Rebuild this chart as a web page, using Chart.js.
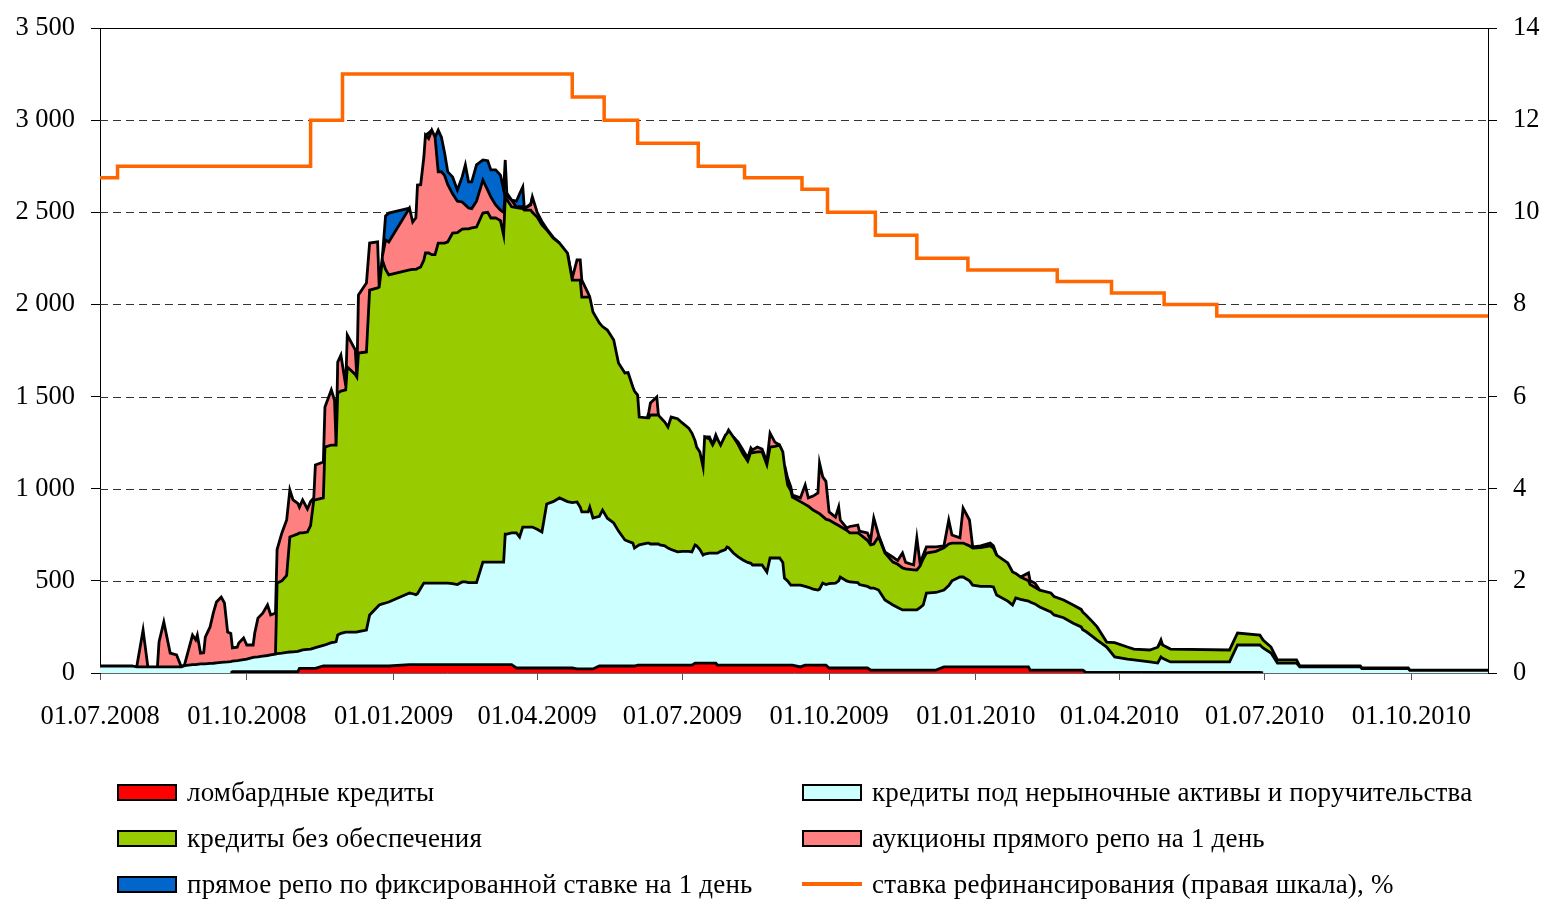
<!DOCTYPE html>
<html>
<head>
<meta charset="utf-8">
<script src="https://cdn.jsdelivr.net/npm/chart.js@4.4.1/dist/chart.umd.min.js"></script>
<style>
html,body{margin:0;padding:0;background:#fff;}
#wrap{position:relative;width:1545px;height:899px;overflow:hidden;}
#chart{position:absolute;left:0;top:0;}
#legend{position:absolute;left:0;top:0;width:1545px;height:899px;pointer-events:none;
  font-family:"Liberation Serif","Times New Roman",serif;font-size:27px;letter-spacing:0.2px;color:#000;}
.item{position:absolute;display:flex;align-items:center;white-space:nowrap;height:30px;}
.sw{width:56px;height:13px;border:2px solid #000;margin-right:10px;}
.ln{width:60px;height:4px;margin-right:10px;}
</style>
</head>
<body>
<div id="wrap">
<canvas id="chart" width="1545" height="899"></canvas>
<div id="legend"></div>
</div>
<script>
// days since 01.07.2008
const days = [0,20,23,27,30,36,37,40,44,48,
51,53,58,60,61,63,65,66,69,71,
73,76,78,80,82,83,86,87,90,92,
96,97,99,102,105,107,110,111,114,117,
119,121,124,125,127,130,132,134,135,140,
141,145,147,148,149,151,154,155,160,161,
162,167,169,174,175,177,179,181,194,196,
198,199,201,203,204,206,208,210,212,214,
216,218,221,224,227,229,231,233,236,240,
243,245,248,251,253,254,255,258,261,263,
265,266,270,271,274,277,280,284,288,293,
296,299,301,302,306,307,309,313,315,318,
322,325,329,331,334,335,337,338,343,344,
345,349,350,351,354,356,358,362,365,369,
371,373,374,376,378,379,382,384,386,387,
389,392,393,394,397,400,403,406,408,409,
412,415,418,420,423,426,428,429,431,433,
434,439,442,444,447,450,451,453,455,457,
461,463,464,468,470,475,476,481,483,485,
488,492,497,500,503,505,510,512,514,516,
518,524,529,532,534,539,541,545,547,552,
558,560,562,569,572,574,577,582,583,586,
589,596,598,604,610,615,616,618,621,625,
631,636,644,648,658,663,665,666,671,708,
713,727,729,734,738,750,752,790,791,820,
821,870];

// ломбардные кредиты
const lombard = [0,0,0,0,0,0,0,0,0,0,
0,0,0,0,0,0,0,0,0,0,
0,0,0,0,0,8,8,8,8,8,
8,8,8,8,8,8,8,8,8,8,
8,8,8,25,25,25,25,25,25,38,
38,38,38,38,38,38,38,38,38,38,
38,38,38,38,38,38,38,38,45,45,
45,45,45,45,45,45,45,45,45,45,
45,45,45,45,45,45,45,45,45,45,
45,45,45,45,45,45,45,45,27,27,
27,27,27,27,27,27,27,27,27,27,
27,22,22,22,22,22,22,38,38,38,
38,38,38,38,38,38,43,43,43,43,
43,43,43,43,43,43,43,43,43,43,
43,54,54,54,54,54,54,54,54,43,
43,43,43,43,43,43,43,43,43,43,
43,43,43,43,43,43,43,43,43,43,
43,33,43,43,43,43,43,43,43,27,
27,27,27,27,27,27,27,27,16,16,
16,16,16,16,16,16,16,16,16,16,
16,16,33,33,33,33,33,33,33,33,
33,33,33,33,33,33,33,33,16,16,
16,16,16,16,16,16,16,3,3,3,
3,3,3,3,3,3,3,3,3,3,
3,3,0,0,0,0,0,0,0,0,
0,0];

// кредиты под нерыночные активы и поручительства
const nonMarket = [38,38,33,33,33,33,33,33,33,33,
33,40,45,45,47,50,50,50,52,53,
55,58,59,60,62,57,59,60,64,67,
77,78,80,84,87,90,95,97,100,104,
106,107,109,95,100,103,105,110,113,112,
114,127,130,132,168,177,184,184,184,184,
187,195,277,322,331,337,342,347,389,385,
380,385,415,443,443,443,443,443,443,443,
443,443,440,435,449,449,445,445,445,557,
557,557,557,557,557,709,709,715,733,711,
765,765,765,765,753,738,890,903,923,903,
898,906,878,852,852,878,819,812,846,802,
776,732,684,677,667,640,647,652,662,662,
657,657,657,652,647,635,627,614,617,617,
614,641,636,616,586,591,596,596,596,607,
617,627,641,637,608,587,570,557,552,543,
543,543,505,581,581,581,557,472,457,434,
434,444,427,422,412,407,412,445,437,458,
461,473,494,473,467,463,453,443,445,445,
434,380,353,339,326,326,326,326,339,353,
418,421,417,442,467,488,488,467,444,437,
437,434,390,357,336,374,367,357,369,359,
342,315,299,284,254,234,219,222,202,176,
138,84,72,68,57,51,84,77,57,57,
149,149,136,108,54,54,33,33,24,24,
14,14];

// кредиты без обеспечения
const unsecured = [0,0,0,0,0,0,0,0,0,0,
0,0,0,0,0,0,0,0,0,0,
0,0,0,0,0,0,0,0,0,0,
0,0,0,0,0,0,0,383,392,418,
624,630,638,640,635,637,670,804,802,800,
1074,1072,1069,1067,1313,1315,1314,1438,1398,1384,
1511,1509,1763,1730,1725,1865,1810,1775,1753,1760,
1765,1765,1743,1753,1791,1791,1782,1782,1845,1845,
1845,1852,1902,1910,1915,1916,1920,1925,1930,1894,
1898,1867,1868,1853,1775,1823,1816,1770,1765,1785,
1728,1720,1720,1708,1694,1666,1487,1430,1383,1349,
1207,1204,1232,1166,1166,1140,1118,1050,996,1021,
993,912,906,915,847,852,818,694,679,679,
700,700,700,694,672,657,719,723,697,669,
645,565,536,529,478,636,620,587,620,620,
577,621,616,638,630,610,577,550,605,609,
614,614,582,602,606,613,600,615,520,513,
478,453,445,440,429,420,410,362,355,345,
322,300,274,275,266,270,275,250,234,239,
290,255,233,235,228,223,218,217,225,251,
217,223,230,225,205,184,184,190,201,210,
220,211,217,207,179,133,121,110,95,90,
92,103,100,96,99,95,96,90,83,71,
27,78,66,59,65,86,81,72,70,65,
65,54,43,33,17,17,5,5,3,3,
2,2];

// аукционы прямого репо на 1 день
const repoAuction = [0,0,0,200,0,0,135,244,75,65,
0,5,161,135,159,58,60,145,198,272,
330,354,321,162,153,71,73,95,118,77,
67,131,210,233,274,217,222,182,260,300,
255,194,165,140,179,125,130,11,189,195,
217,299,243,0,168,195,24,174,133,0,
315,374,255,249,0,20,160,179,336,257,
280,453,447,559,640,621,676,638,387,387,
367,310,213,170,147,130,113,105,140,179,
120,114,70,57,123,23,20,36,4,7,
10,8,28,83,26,19,6,5,0,0,
11,109,109,92,20,0,0,0,0,0,
0,0,0,0,0,0,0,0,0,32,
65,98,0,0,0,0,0,0,0,0,
0,0,0,0,0,0,11,3,21,0,
0,0,0,0,0,13,20,17,21,15,
26,15,15,76,23,0,0,0,38,20,
11,20,105,45,76,107,274,214,205,44,
36,101,35,12,35,43,15,40,25,141,
9,6,27,20,81,35,26,174,17,20,
33,24,10,130,44,28,190,140,6,10,
15,12,0,0,0,0,0,43,20,23,
0,0,0,0,0,0,0,0,0,0,
0,0,0,0,0,0,11,0,0,0,
0,0,0,0,0,0,0,0,0,0,
0,0];

// прямое репо по фиксированной ставке на 1 день
const repoFixed = [0,0,0,0,0,0,0,0,0,0,
0,0,0,0,0,0,0,0,0,0,
0,0,0,0,0,0,0,0,0,0,
0,0,0,0,0,0,0,0,0,0,
0,0,0,0,0,0,0,0,0,0,
0,0,0,0,0,0,0,0,0,0,
0,0,0,0,0,0,130,157,0,0,
0,0,0,0,0,30,0,0,226,188,
122,69,92,61,136,217,142,145,197,109,
160,147,190,190,121,184,14,0,31,70,
107,0,5,0,0,0,0,0,0,0,
0,0,0,0,0,0,0,0,0,0,
0,0,0,0,0,0,0,0,0,0,
0,0,0,0,0,0,0,0,0,0,
0,0,0,0,0,0,0,0,0,0,
0,0,0,0,0,0,0,0,0,0,
0,0,0,0,0,0,0,0,0,0,
0,0,0,0,0,0,0,0,0,0,
0,0,0,0,0,0,0,0,0,0,
0,0,0,0,0,0,0,0,0,0,
0,0,0,0,0,0,0,0,0,0,
0,0,0,0,0,0,0,0,0,0,
0,0,0,0,0,0,0,0,0,0,
0,0,0,0,0,0,0,0,0,0,
0,0,0,0,0,0,0,0,0,0,
0,0];

// ставка рефинансирования, % (days since 01.07.2008 when each rate starts)
const rateDays   = [0,11,132,152,296,316,337,375,404,440,456,486,512,544,600,634,667,700,870];
const rateValues = [10.75,11,12,13,12.5,12,11.5,11,10.75,10.5,10,9.5,9,8.75,8.5,8.25,8,7.75,7.75];

// x-axis tick labels
const xTickDays   = [0,92,184,274,365,457,549,639,730,822];
const xTickLabels = ['01.07.2008','01.10.2008','01.01.2009','01.04.2009','01.07.2009','01.10.2009','01.01.2010','01.04.2010','01.07.2010','01.10.2010'];

const seriesLabels = ['ломбардные кредиты','кредиты под нерыночные активы и поручительства','кредиты без обеспечения','аукционы прямого репо на 1 день','прямое репо по фиксированной ставке на 1 день','ставка рефинансирования (правая шкала), %'];
const seriesColors = ['#FF0000','#CCFFFF','#99CC00','#FF8080','#0066CC','#FF6600'];

const lens = [lombard,nonMarket,unsecured,repoAuction,repoFixed].map(a=>a.length);
if (lens.some(l=>l!==days.length)) console.error('length mismatch', days.length, lens);

const FONT = '"Liberation Serif","Times New Roman",serif';
const FS = 26.5;

const toPts = vals => vals.map((v,i)=>({x:days[i], y:v}));
function area(idx, vals, fill){
  return {
    type:'line', label: seriesLabels[idx], data: toPts(vals),
    backgroundColor: seriesColors[idx], borderColor:'#000', borderWidth:2.8,
    pointRadius:0, tension:0, fill, yAxisID:'y', order:1,
    segment:{ borderColor: c => (c.p0.raw.y===0 && c.p1.raw.y===0) ? 'rgba(0,0,0,0)' : undefined }
  };
}

const gridPlugin = {
  id:'dashGrid',
  beforeDatasetsDraw(chart){
    const {ctx, chartArea:a, scales} = chart;
    const y = scales.y;
    ctx.save();
    ctx.lineWidth = 1;
    ctx.strokeStyle = '#333';
    ctx.setLineDash([8,5]);
    y.ticks.forEach(t=>{
      if (t.value<=y.min || t.value>=y.max) return;
      const py = Math.round(y.getPixelForValue(t.value))+0.5;
      ctx.beginPath(); ctx.moveTo(a.left,py); ctx.lineTo(a.right,py); ctx.stroke();
    });
    ctx.setLineDash([]);
    ctx.strokeStyle = '#000';
    const tp = Math.round(a.top)+0.5;
    ctx.beginPath(); ctx.moveTo(a.left,tp); ctx.lineTo(a.right,tp); ctx.stroke();
    ctx.restore();
  }
};

const fmtThousands = v => v>=1000 ? Math.floor(v/1000)+' '+String(v%1000).padStart(3,'0') : String(v);
const fixV = w => s => { s.width = w; s.paddingTop = 0; s.paddingBottom = 0; };

const chart = new Chart(document.getElementById('chart'), {
  type:'line',
  data:{
    datasets:[
      area(0, lombard, 'origin'),
      area(1, nonMarket, '-1'),
      area(2, unsecured, '-1'),
      area(3, repoAuction, '-1'),
      area(4, repoFixed, '-1'),
      {
        type:'line', label: seriesLabels[5],
        data: rateValues.map((v,i)=>({x:rateDays[i], y:v})),
        borderColor: seriesColors[5], backgroundColor: seriesColors[5],
        borderWidth:3.5, pointRadius:0, stepped:true, fill:false,
        yAxisID:'y1', order:0
      }
    ]
  },
  options:{
    responsive:false, animation:false, devicePixelRatio:1,
    layout:{padding:{left:0,right:0,top:28,bottom:166}},
    plugins:{legend:{display:false}, tooltip:{enabled:false}},
    events:[],
    scales:{
      x:{
        type:'linear', min:0, max:870,
        afterBuildTicks: s => { s.ticks = xTickDays.map(v=>({value:v})); },
        afterFit: s => { s.height = 60; },
        ticks:{ autoSkip:false, maxRotation:0, color:'#000', padding:21,
          font:{family:FONT, size:FS},
          callback: v => { const i = xTickDays.indexOf(v); return i>=0 ? xTickLabels[i] : ''; } },
        grid:{ drawOnChartArea:false, drawTicks:true, tickLength:7, color:'#555' },
        border:{ color:'#666', width:1 }
      },
      y:{
        type:'linear', position:'left', stacked:true, min:0, max:3500,
        afterFit: fixV(100),
        ticks:{ stepSize:500, color:'#000', padding:16, font:{family:FONT, size:FS}, callback: v => fmtThousands(v) },
        grid:{ drawOnChartArea:false, drawTicks:true, tickLength:9, color:'#000' },
        border:{ color:'#000', width:1 }
      },
      y1:{
        type:'linear', position:'right', stacked:false, min:0, max:14,
        afterFit: fixV(57),
        ticks:{ stepSize:2, color:'#000', padding:16, font:{family:FONT, size:FS} },
        grid:{ drawOnChartArea:false, drawTicks:true, tickLength:9, color:'#000' },
        border:{ color:'#000', width:1 }
      }
    }
  },
  plugins:[gridPlugin]
});

// legend (two columns)
const legendOrder = [[0,117,792],[1,802,792],[2,117,838],[3,802,838],[4,117,884],[5,802,884]];
const lg = document.getElementById('legend');
legendOrder.forEach(([i,x,y])=>{
  const d = document.createElement('div');
  d.className='item';
  d.style.left = x+'px';
  d.style.top = (y-15)+'px';
  const s = document.createElement('span');
  if (i===5){ s.className='ln'; s.style.background = seriesColors[i]; }
  else { s.className='sw'; s.style.background = seriesColors[i]; }
  const t = document.createElement('span');
  t.textContent = seriesLabels[i];
  d.appendChild(s); d.appendChild(t);
  lg.appendChild(d);
});
</script>
</body>
</html>
